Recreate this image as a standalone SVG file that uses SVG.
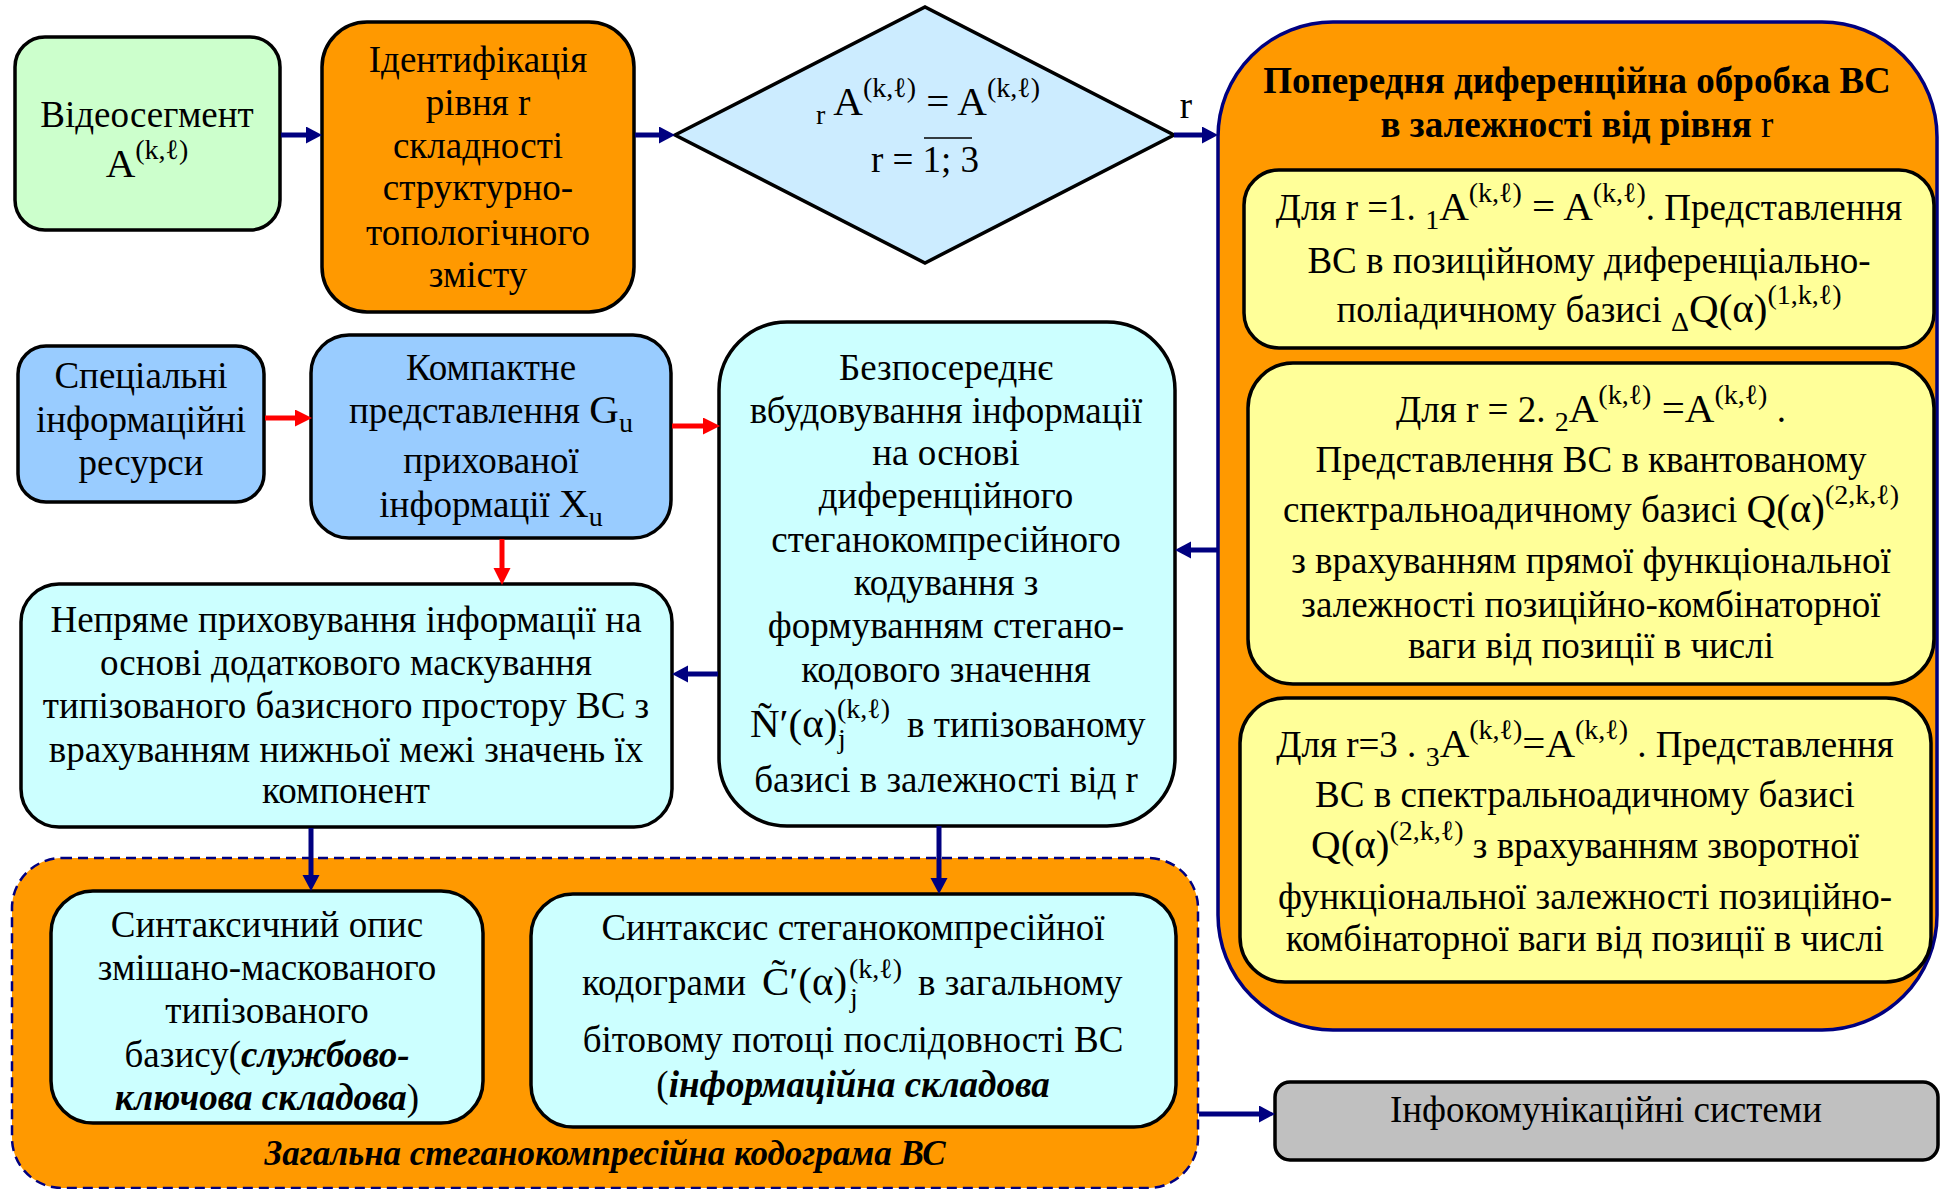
<svg xmlns="http://www.w3.org/2000/svg" width="1941" height="1189" viewBox="0 0 1941 1189">
<defs>
<style>
.t{font-family:"Liberation Serif","Times New Roman","DejaVu Serif",serif;font-size:37px;fill:#000;text-anchor:middle}
.s{text-anchor:start}
.sm{font-size:28px}
.m{font-size:41px}
.b{font-weight:bold}
.bi{font-weight:bold;font-style:italic}
.ft{font-size:35px}
.box{stroke:#000;stroke-width:3.5}
.nv{stroke:#000080;stroke-width:5;fill:none;marker-end:url(#hn)}
.rd{stroke:#FF0000;stroke-width:5;fill:none;marker-end:url(#hr)}
</style>
<marker id="hn" markerUnits="userSpaceOnUse" markerWidth="18" markerHeight="18" refX="4" refY="8.5" orient="auto"><path d="M0,0 L16,8.5 L0,17 z" fill="#000080"/></marker>
<marker id="hr" markerUnits="userSpaceOnUse" markerWidth="20" markerHeight="18" refX="4" refY="8.5" orient="auto"><path d="M0,0 L17,8.5 L0,17 z" fill="#FF0000"/></marker>
</defs>
<rect width="1941" height="1189" fill="#fff"/>

<g id="n-container-right">
<rect x="1218" y="22" width="719" height="1008" rx="115" ry="115" fill="#FF9900" stroke="#000080" stroke-width="3.5"/>
<text class="t b" x="1577" y="93">Попередня диференційна обробка ВС</text>
<text class="t" x="1577" y="137"><tspan class="b">в залежності від рівня </tspan>r</text>
</g>

<g id="n-container-bottom">
<rect x="12" y="858" width="1186" height="330" rx="50" ry="50" fill="#FF9900" stroke="#000080" stroke-width="2.5" stroke-dasharray="10,6"/>
<text class="t bi ft" x="605" y="1165">Загальна стеганокомпресійна кодограма ВС</text>
</g>

<g id="n-video">
<rect class="box" x="15" y="37" width="265" height="193" rx="30" fill="#CCFFCC"/>
<text class="t" x="147" y="127">Відеосегмент</text>
<text class="t" x="147" y="177"><tspan class="m">A</tspan><tspan class="sm" dy="-18">(k,ℓ)</tspan></text>
</g>

<g id="n-ident">
<rect class="box" x="322" y="22" width="312" height="290" rx="45" fill="#FF9900"/>
<text class="t" x="478" y="72">Ідентифікація</text>
<text class="t" x="478" y="115">рівня r</text>
<text class="t" x="478" y="158">складності</text>
<text class="t" x="478" y="200">структурно-</text>
<text class="t" x="478" y="245">топологічного</text>
<text class="t" x="478" y="287">змісту</text>
</g>

<g id="n-decision">
<polygon class="box" points="675,135 925,7 1174,135 925,263" fill="#CCECFF"/>
<text class="t" x="928" y="115"><tspan class="sm" dy="9">r</tspan><tspan class="m" dy="-9"> A</tspan><tspan class="sm" dy="-18">(k,ℓ)</tspan><tspan class="m" dy="18"> = A</tspan><tspan class="sm" dy="-18">(k,ℓ)</tspan></text>
<text class="t" x="925" y="172">r = 1; 3</text>
<line x1="924" y1="138" x2="972" y2="138" stroke="#000" stroke-width="1.5"/>
</g>

<g id="n-r1">
<rect class="box" x="1244" y="170" width="690" height="178" rx="35" fill="#FFFF99"/>
<text class="t" x="1589" y="220">Для  r =1.  <tspan class="sm" dy="9">1</tspan><tspan class="m" dy="-9">A</tspan><tspan class="sm" dy="-18">(k,ℓ)</tspan><tspan class="m" dy="18"> = A</tspan><tspan class="sm" dy="-18">(k,ℓ)</tspan><tspan dy="18">. Представлення</tspan></text>
<text class="t" x="1589" y="273">ВС в позиційному диференціально-</text>
<text class="t" x="1589" y="322">поліадичному базисі <tspan class="sm" dy="9">Δ</tspan><tspan class="m" dy="-9">Q(α)</tspan><tspan class="sm" dy="-18">(1,k,ℓ)</tspan></text>
</g>

<g id="n-r2">
<rect class="box" x="1248" y="363" width="686" height="321" rx="45" fill="#FFFF99"/>
<text class="t" x="1591" y="422">Для  r = 2.  <tspan class="sm" dy="9">2</tspan><tspan class="m" dy="-9">A</tspan><tspan class="sm" dy="-18">(k,ℓ)</tspan><tspan class="m" dy="18"> =A</tspan><tspan class="sm" dy="-18">(k,ℓ)</tspan><tspan dy="18"> .</tspan></text>
<text class="t" x="1591" y="472">Представлення ВС в квантованому</text>
<text class="t" x="1591" y="522">спектральноадичному базисі <tspan class="m">Q(α)</tspan><tspan class="sm" dy="-18">(2,k,ℓ)</tspan></text>
<text class="t" x="1591" y="573">з врахуванням прямої функціональної</text>
<text class="t" x="1591" y="617">залежності позиційно-комбінаторної</text>
<text class="t" x="1591" y="658">ваги від позиції в числі</text>
</g>

<g id="n-r3">
<rect class="box" x="1240" y="698" width="691" height="284" rx="45" fill="#FFFF99"/>
<text class="t" x="1585" y="757">Для  r=3 .  <tspan class="sm" dy="9">3</tspan><tspan class="m" dy="-9">A</tspan><tspan class="sm" dy="-18">(k,ℓ)</tspan><tspan class="m" dy="18">=A</tspan><tspan class="sm" dy="-18">(k,ℓ)</tspan><tspan dy="18"> . Представлення</tspan></text>
<text class="t" x="1585" y="807">ВС в спектральноадичному базисі</text>
<text class="t" x="1585" y="858"><tspan class="m">Q(α)</tspan><tspan class="sm" dy="-18">(2,k,ℓ)</tspan><tspan dy="18">  з врахуванням зворотної</tspan></text>
<text class="t" x="1585" y="909">функціональної залежності позиційно-</text>
<text class="t" x="1585" y="951">комбінаторної ваги від позиції в числі</text>
</g>

<g id="n-infocom">
<rect class="box" x="1275" y="1082" width="663" height="78" rx="15" fill="#C0C0C0"/>
<text class="t" x="1606" y="1122">Інфокомунікаційні системи</text>
</g>

<g id="n-special">
<rect class="box" x="18" y="346" width="246" height="156" rx="28" fill="#99CCFF"/>
<text class="t" x="141" y="388">Спеціальні</text>
<text class="t" x="141" y="432">інформаційні</text>
<text class="t" x="141" y="475">ресурси</text>
</g>

<g id="n-compact">
<rect class="box" x="311" y="335" width="360" height="203" rx="38" fill="#99CCFF"/>
<text class="t" x="491" y="380">Компактне</text>
<text class="t" x="491" y="423">представлення  <tspan class="m">G</tspan><tspan class="sm" dy="9">u</tspan></text>
<text class="t" x="491" y="473">прихованої</text>
<text class="t" x="491" y="517">інформації  <tspan class="m">X</tspan><tspan class="sm" dy="9">u</tspan></text>
</g>

<g id="n-indirect">
<rect class="box" x="21" y="584" width="651" height="243" rx="38" fill="#CCFFFF"/>
<text class="t" x="346" y="632">Непряме приховування інформації на</text>
<text class="t" x="346" y="675">основі додаткового маскування</text>
<text class="t" x="346" y="718">типізованого базисного простору ВС з</text>
<text class="t" x="346" y="762">врахуванням нижньої межі значень їх</text>
<text class="t" x="346" y="803">компонент</text>
</g>

<g id="n-direct">
<rect class="box" x="719" y="322" width="456" height="504" rx="68" fill="#CCFFFF"/>
<text class="t" x="946" y="380">Безпосереднє</text>
<text class="t" x="946" y="423">вбудовування інформації</text>
<text class="t" x="946" y="465">на основі</text>
<text class="t" x="946" y="508">диференційного</text>
<text class="t" x="946" y="552">стеганокомпресійного</text>
<text class="t" x="946" y="595">кодування з</text>
<text class="t" x="946" y="638">формуванням стегано-</text>
<text class="t" x="946" y="682">кодового значення</text>
<text class="t s m" x="750" y="737">Ñ′(α)</text>
<text class="t s sm" x="837" y="718">(k,ℓ)</text>
<text class="t s sm" x="838" y="748">j</text>
<text class="t s" x="907" y="737">в типізованому</text>
<text class="t" x="946" y="792">базисі в залежності від  r</text>
</g>

<g id="n-syntax-desc">
<rect class="box" x="51" y="891" width="432" height="232" rx="42" fill="#CCFFFF"/>
<text class="t" x="267" y="937">Синтаксичний опис</text>
<text class="t" x="267" y="980">змішано-маскованого</text>
<text class="t" x="267" y="1023">типізованого</text>
<text class="t" x="267" y="1067">базису(<tspan class="bi">службово-</tspan></text>
<text class="t" x="267" y="1110"><tspan class="bi">ключова складова</tspan>)</text>
</g>

<g id="n-syntax">
<rect class="box" x="531" y="894" width="645" height="233" rx="42" fill="#CCFFFF"/>
<text class="t" x="853" y="940">Синтаксис стеганокомпресійної</text>
<text class="t s" x="582" y="995">кодограми</text>
<text class="t s m" x="762" y="995">C̃′(α)</text>
<text class="t s sm" x="849" y="978">(k,ℓ)</text>
<text class="t s sm" x="850" y="1007">j</text>
<text class="t s" x="918" y="995">в загальному</text>
<text class="t" x="853" y="1052">бітовому потоці послідовності ВС</text>
<text class="t" x="853" y="1097">(<tspan class="bi">інформаційна складова</tspan></text>
</g>

<g id="connectors">
<line class="nv" x1="281" y1="135" x2="310" y2="135"/>
<line class="nv" x1="635" y1="135" x2="663" y2="135"/>
<line class="nv" x1="1174" y1="135" x2="1206" y2="135"/>
<text class="t" x="1186" y="118">r</text>
<line class="rd" x1="265" y1="418" x2="299" y2="418"/>
<line class="rd" x1="672" y1="426" x2="707" y2="426"/>
<line class="rd" x1="502" y1="539" x2="502" y2="572"/>
<line class="nv" x1="1217" y1="550" x2="1187" y2="550"/>
<line class="nv" x1="718" y1="674" x2="684" y2="674"/>
<line class="nv" x1="311" y1="828" x2="311" y2="879"/>
<line class="nv" x1="939" y1="826" x2="939" y2="882"/>
<line class="nv" x1="1199" y1="1114" x2="1263" y2="1114"/>
</g>
</svg>
